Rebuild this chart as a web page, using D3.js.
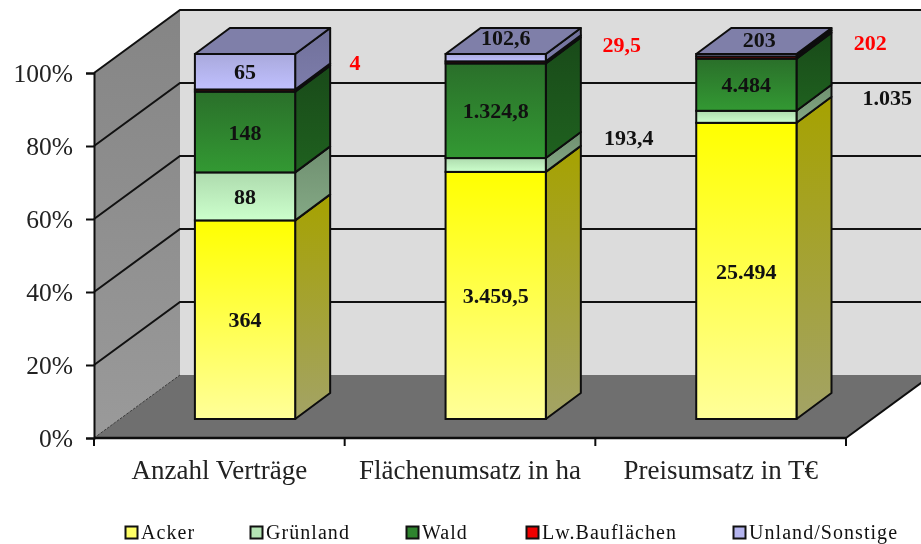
<!DOCTYPE html>
<html>
<head>
<meta charset="utf-8">
<script src="https://cdnjs.cloudflare.com/ajax/libs/d3/7.8.5/d3.min.js"></script>
<style>
  html, body { margin: 0; padding: 0; background: #fff; }
  svg { display: block; filter: blur(0.4px); }
  text { font-family: "Liberation Serif", serif; }
</style>
</head>
<body>
<div id="chart"></div>
<script>
const categories = ["Anzahl Verträge", "Flächenumsatz in ha", "Preisumsatz in T€"];
const seriesNames = ["Acker", "Grünland", "Wald", "Lw.Bauflächen", "Unland/Sonstige"];
const acker = [364, 3459.5, 25494];
const gruenland = [88, 193.4, 1035];
const wald = [148, 1324.8, 4484];
const bauflaechen = [4, 29.5, 202];
const unland = [65, 102.6, 203];
const valueLabels = [
  ["364", "88", "148", "4", "65"],
  ["3.459,5", "193,4", "1.324,8", "29,5", "102,6"],
  ["25.494", "1.035", "4.484", "202", "203"]
];
const percentTicks = [0, 0.2, 0.4, 0.6, 0.8, 1];

const width = 921;
const height = 544;
const svg = d3.select("#chart").append("svg")
  .attr("width", width)
  .attr("height", height);

// front plane of the chart box
const x = d3.scaleBand().domain(categories).range([94, 846]).paddingInner(0.6).paddingOuter(0.3);
const y = d3.scaleLinear().domain([0, 1]).range([438, 73]);
const wallDx = 86, wallDy = -63;
const barShiftX = 25.7, barShiftY = -19;
const barDx = 35, barDy = -26;

const rows = categories.map((c, i) => ({
  category: c,
  Acker: acker[i],
  "Grünland": gruenland[i],
  Wald: wald[i],
  "Lw.Bauflächen": bauflaechen[i],
  "Unland/Sonstige": unland[i]
}));
const stacked = d3.stack().keys(seriesNames).offset(d3.stackOffsetExpand)(rows);

const faceColors = {
  "Acker": { front: ["#ffff00", "#ffff99"], side: ["#a6a200", "#a3a366"] },
  "Grünland": { front: ["#aedbae", "#ccffcc"], side: ["#6f8f70", "#84a985"] },
  "Wald": { front: ["#2a6f2a", "#339933"], side: ["#194a19", "#1f611f"] },
  "Lw.Bauflächen": { front: ["#ff0000", "#ff0000"], side: ["#8c0000", "#8c0000"] },
  "Unland/Sonstige": { front: ["#a9a9dc", "#c0c0ff"], side: ["#70709a", "#7d7dab"] }
};
const swatchColors = ["#ffff66", "#b4e4b4", "#2e842e", "#f00000", "#b4b4ee"];

const defs = svg.append("defs");
function addGradient(id, colors) {
  const g = defs.append("linearGradient").attr("id", id)
    .attr("x1", 0).attr("y1", 0).attr("x2", 0).attr("y2", 1);
  g.append("stop").attr("offset", "0%").attr("stop-color", colors[0]);
  g.append("stop").attr("offset", "100%").attr("stop-color", colors[1]);
}
seriesNames.forEach((name, i) => {
  addGradient("front" + i, faceColors[name].front);
  addGradient("side" + i, faceColors[name].side);
});
addGradient("leftWall", ["#858585", "#9a9a9a"]);

const line = d3.line();
const poly = pts => line(pts) + "Z";
const edge = "#0d0d0d";

// back wall, side wall, floor
const backY = v => y(v) + wallDy;
const x0 = x.range()[0], x1 = x.range()[1];
svg.append("path")
  .attr("d", poly([[x0 + wallDx, backY(1)], [x1 + wallDx, backY(1)], [x1 + wallDx, backY(0)], [x0 + wallDx, backY(0)]]))
  .attr("fill", "#dcdcdc");
svg.append("path")
  .attr("d", poly([[x0, y(1)], [x0 + wallDx, backY(1)], [x0 + wallDx, backY(0)], [x0, y(0)]]))
  .attr("fill", "url(#leftWall)");
svg.append("path")
  .attr("d", poly([[x0, y(0)], [x0 + wallDx, backY(0)], [x1 + wallDx, backY(0)], [x1, y(0)]]))
  .attr("fill", "#6f6f6f");

// grid lines on both walls
percentTicks.filter(t => t > 0).forEach(t => {
  svg.append("path")
    .attr("d", line([[x0, y(t)], [x0 + wallDx, backY(t)], [x1 + wallDx, backY(t)]]))
    .attr("fill", "none")
    .attr("stroke", "#111")
    .attr("stroke-width", 2);
});
svg.append("path")
  .attr("d", line([[x0, y(0)], [x0 + wallDx, backY(0)]]))
  .attr("fill", "none").attr("stroke", "#3a3a3a").attr("stroke-width", 1).attr("stroke-dasharray", "3 1");
svg.append("path")
  .attr("d", line([[x1, y(0)], [x1 + wallDx, backY(0)]]))
  .attr("fill", "none").attr("stroke", edge).attr("stroke-width", 2);

// bars
const bars = svg.append("g");
categories.forEach((cat, c) => {
  const left = x(cat) + barShiftX;
  const right = left + x.bandwidth();
  const g = bars.append("g");
  stacked.forEach((layer, s) => {
    const top = y(layer[c][1]) + barShiftY;
    const bottom = y(layer[c][0]) + barShiftY;
    g.append("path")
      .attr("d", poly([[right, top], [right + barDx, top + barDy], [right + barDx, bottom + barDy], [right, bottom]]))
      .attr("fill", `url(#side${s})`)
      .attr("stroke", edge).attr("stroke-width", 2).attr("stroke-linejoin", "round");
    g.append("rect")
      .attr("x", left).attr("y", top)
      .attr("width", x.bandwidth()).attr("height", bottom - top)
      .attr("fill", `url(#front${s})`)
      .attr("stroke", edge).attr("stroke-width", 2);
  });
  const t = y(1) + barShiftY;
  g.append("path")
    .attr("d", poly([[left, t], [left + barDx, t + barDy], [right + barDx, t + barDy], [right, t]]))
    .attr("fill", "#7f7fa9")
    .attr("stroke", edge).attr("stroke-width", 2).attr("stroke-linejoin", "round");
});

// segment labels, thin segments are moved out of the bar by hand
const labelShift = {
  "0-3": [110, -28],
  "1-1": [133, -28],
  "1-3": [126, -18],
  "1-4": [10, -20],
  "2-1": [141, -20],
  "2-3": [124, -15],
  "2-4": [13, -16]
};
categories.forEach((cat, c) => {
  const cx = x(cat) + barShiftX + x.bandwidth() / 2;
  stacked.forEach((layer, s) => {
    const mid = y((layer[c][0] + layer[c][1]) / 2) + barShiftY;
    const shift = labelShift[c + "-" + s] || [0, 0];
    svg.append("text")
      .attr("x", cx + shift[0])
      .attr("y", mid + shift[1])
      .attr("dy", "0.35em")
      .attr("text-anchor", "middle")
      .attr("font-size", 22)
      .attr("font-weight", "bold")
      .attr("fill", s === 3 ? "#ff0000" : "#111")
      .text(valueLabels[c][s]);
  });
});

// axes
const yAxis = d3.axisLeft(y).tickValues(percentTicks).tickFormat(d3.format(".0%")).tickSize(8).tickPadding(13);
const yG = svg.append("g").attr("transform", `translate(${x0},0)`).call(yAxis);
yG.select(".domain").attr("stroke", edge).attr("stroke-width", 2);
yG.selectAll(".tick line").attr("stroke", edge).attr("stroke-width", 2);
yG.selectAll(".tick text").attr("font-size", 25.5).attr("fill", "#222").attr("font-family", "Liberation Serif");

const xAxis = d3.axisBottom(x).tickSize(0).tickPadding(22);
const xG = svg.append("g").attr("transform", `translate(0,${y(0)})`).call(xAxis);
xG.select(".domain").remove();
xG.selectAll(".tick text").attr("font-size", 27).attr("fill", "#222").attr("font-family", "Liberation Serif");
svg.append("path")
  .attr("d", line([[x0, y(0)], [x1, y(0)]]))
  .attr("stroke", edge).attr("stroke-width", 2.4);
d3.range(categories.length + 1).forEach(i => {
  const tx = x0 + i * x.step();
  svg.append("path")
    .attr("d", line([[tx, y(0)], [tx, y(0) + 8]]))
    .attr("stroke", edge).attr("stroke-width", 2);
});

// legend
const legendX = d3.scaleOrdinal().domain(seriesNames).range([125, 250, 406, 526, 733]);
const legend = svg.append("g").selectAll("g").data(seriesNames).join("g")
  .attr("transform", d => `translate(${legendX(d)},526)`);
legend.append("rect")
  .attr("x", 0.5).attr("y", 0.5).attr("width", 12).attr("height", 12)
  .attr("fill", (d, i) => swatchColors[i])
  .attr("stroke", "#111").attr("stroke-width", 2);
legend.append("text")
  .attr("x", 16).attr("y", 13)
  .attr("font-size", 20)
  .attr("letter-spacing", "1.05px")
  .attr("fill", "#111")
  .text(d => d);
</script>
</body>
</html>
